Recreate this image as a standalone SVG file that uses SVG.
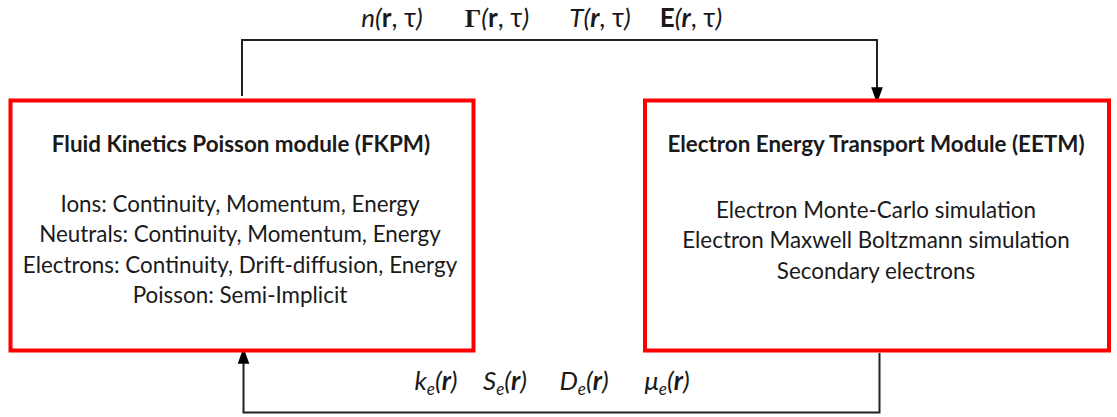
<svg xmlns="http://www.w3.org/2000/svg" width="1117" height="417" viewBox="0 0 1117 417">
<style>
.box{fill:#fff;stroke:#f00;stroke-width:4}
.con{fill:none;stroke:#222;stroke-width:2}
.t{font-family:Lato,"Open Sans",sans-serif;fill:#1a1a1a;text-anchor:middle}
.title{font-size:22.4px;font-weight:bold}
.body{font-size:22.4px}
.lab{font-family:Lato,"Open Sans",sans-serif;font-size:26px;fill:#1a1a1a;text-anchor:middle}
.lab2{font-family:Lato,"Open Sans",sans-serif;font-size:26px;fill:#1a1a1a;text-anchor:middle}
.it{font-style:italic}
.b{font-weight:bold}
.sub{font-size:17px;font-style:italic}
.ser{font-family:"Liberation Serif","DejaVu Serif",serif;font-weight:bold}
</style>
<defs>
<marker id="arr" markerWidth="16" markerHeight="22" refX="16" refY="8" orient="auto" markerUnits="userSpaceOnUse" viewBox="0 0 22 16">
<path d="M0,0 L22,8 L0,16 z" fill="#000"/>
</marker>
</defs>
<rect width="1117" height="417" fill="#fff"/>
<g id="connectors">
<path class="con" d="M242,96 V40 H877 V99" marker-end="url(#arr)"/>
<path class="con" d="M879.5,353 V412.5 H243.5 V352" marker-end="url(#arr)"/>
</g>
<g id="labels-top">
<text class="lab" x="392" y="26.5"><tspan class="it">n(</tspan><tspan class="b">r</tspan>, τ<tspan class="it">)</tspan></text>
<text class="lab" x="497" y="26.5"><tspan class="ser">Γ</tspan><tspan class="it">(</tspan><tspan class="b">r</tspan>, τ<tspan class="it">)</tspan></text>
<text class="lab" x="600" y="26.5"><tspan class="it">T(</tspan><tspan class="b it">r</tspan>, τ<tspan class="it">)</tspan></text>
<text class="lab" x="691" y="26.5"><tspan class="b">E</tspan><tspan class="it">(</tspan><tspan class="b it">r</tspan>, τ<tspan class="it">)</tspan></text>
</g>
<g id="labels-bottom">
<text class="lab2" x="436" y="390"><tspan class="it">k</tspan><tspan class="sub" dy="5">e</tspan><tspan class="it" dy="-5">(</tspan><tspan class="b it">r</tspan><tspan class="it">)</tspan></text>
<text class="lab2" x="505" y="390"><tspan class="it">S</tspan><tspan class="sub" dy="5">e</tspan><tspan class="it" dy="-5">(</tspan><tspan class="b it">r</tspan><tspan class="it">)</tspan></text>
<text class="lab2" x="584" y="390"><tspan class="it">D</tspan><tspan class="sub" dy="5">e</tspan><tspan class="it" dy="-5">(</tspan><tspan class="b it">r</tspan><tspan class="it">)</tspan></text>
<text class="lab2" x="667" y="390"><tspan class="it">μ</tspan><tspan class="sub" dy="5">e</tspan><tspan class="it" dy="-5">(</tspan><tspan class="b it">r</tspan><tspan class="it">)</tspan></text>
</g>
<g id="fkpm">
<rect class="box" x="10.5" y="100.5" width="463" height="250"/>
<text class="t title" x="241" y="152">Fluid Kinetics Poisson module (FKPM)</text>
<text class="t body" x="240" y="212">Ions: Continuity, Momentum, Energy</text>
<text class="t body" x="240" y="242">Neutrals: Continuity, Momentum, Energy</text>
<text class="t body" x="240" y="273">Electrons: Continuity, Drift-diffusion, Energy</text>
<text class="t body" x="240" y="303">Poisson: Semi-Implicit</text>
</g>
<g id="eetm">
<rect class="box" x="645" y="100.5" width="464" height="250"/>
<text class="t title" x="876" y="152">Electron Energy Transport Module (EETM)</text>
<text class="t body" x="876" y="218">Electron Monte-Carlo simulation</text>
<text class="t body" x="876" y="248">Electron Maxwell Boltzmann simulation</text>
<text class="t body" x="876" y="279">Secondary electrons</text>
</g>
</svg>
